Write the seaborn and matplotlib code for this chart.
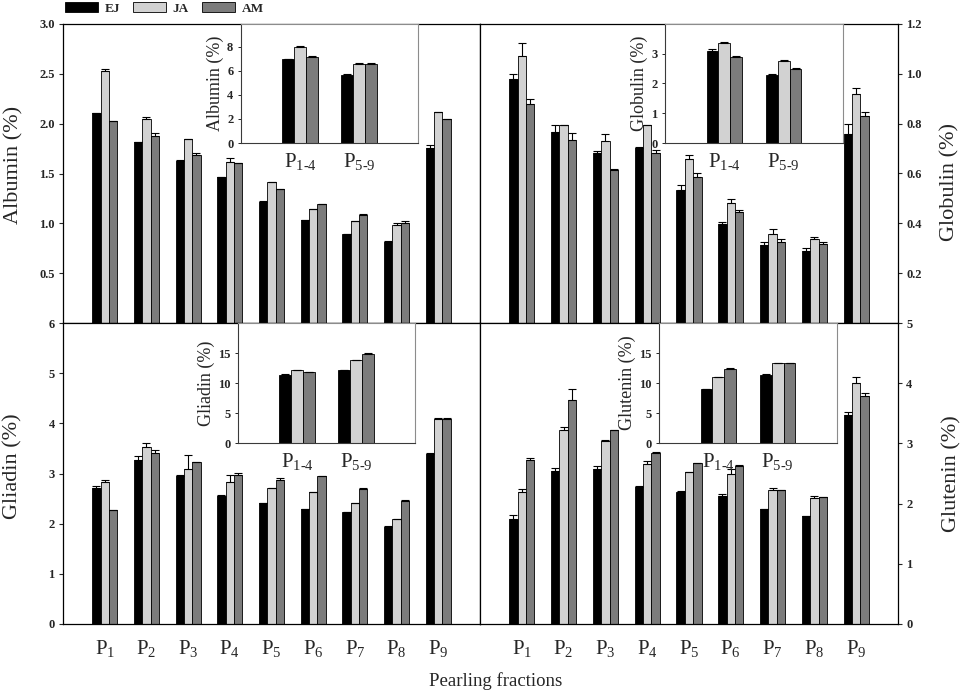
import numpy as np
import pandas as pd
import seaborn as sns
import matplotlib.pyplot as plt

# categories
fractions = ["P1", "P2", "P3", "P4", "P5", "P6", "P7", "P8", "P9"]
fraction_labels = [r"$\mathrm{P}_{%d}$" % i for i in range(1, 10)]
pools = ["P1-4", "P5-9"]
pool_labels = [r"$\mathrm{P}_{\text{1-4}}$", r"$\mathrm{P}_{\text{5-9}}$"]
cultivars = ["EJ", "JA", "AM"]
colors = ["#000000", "#d2d2d2", "#7c7c7c"]

# Albumin (%)
albumin_ej = [2.11, 1.82, 1.63, 1.46, 1.21, 1.03, 0.89, 0.81, 1.76]
albumin_ja = [2.53, 2.05, 1.85, 1.62, 1.41, 1.14, 1.02, 0.98, 2.12]
albumin_am = [2.03, 1.88, 1.69, 1.61, 1.34, 1.19, 1.08, 1.00, 2.05]
albumin_ej_err = [0.00, 0.00, 0.01, 0.00, 0.01, 0.00, 0.00, 0.01, 0.03]
albumin_ja_err = [0.02, 0.02, 0.00, 0.04, 0.00, 0.00, 0.00, 0.02, 0.00]
albumin_am_err = [0.00, 0.03, 0.02, 0.00, 0.00, 0.00, 0.01, 0.02, 0.00]
albumin_pool_ej = [6.95, 5.65]
albumin_pool_ja = [8.0, 6.6]
albumin_pool_am = [7.15, 6.6]

# Globulin (%)
globulin_ej = [0.978, 0.766, 0.683, 0.703, 0.532, 0.396, 0.312, 0.290, 0.760]
globulin_ja = [1.073, 0.793, 0.730, 0.793, 0.660, 0.482, 0.356, 0.336, 0.921]
globulin_am = [0.877, 0.736, 0.613, 0.683, 0.584, 0.445, 0.327, 0.316, 0.830]
globulin_ej_err = [0.02, 0.03, 0.007, 0.005, 0.02, 0.01, 0.013, 0.01, 0.04]
globulin_ja_err = [0.05, 0.00, 0.03, 0.00, 0.016, 0.017, 0.02, 0.01, 0.024]
globulin_am_err = [0.02, 0.027, 0.005, 0.01, 0.02, 0.01, 0.01, 0.01, 0.016]
globulin_pool_ej = [3.1, 2.27]
globulin_pool_ja = [3.35, 2.75]
globulin_pool_am = [2.88, 2.48]

# Gliadin (%)
gliadin_ej = [2.71, 3.27, 2.95, 2.55, 2.41, 2.30, 2.23, 1.93, 3.38]
gliadin_ja = [2.83, 3.53, 3.09, 2.83, 2.71, 2.63, 2.41, 2.09, 4.08]
gliadin_am = [2.28, 3.41, 3.23, 2.97, 2.87, 2.95, 2.69, 2.45, 4.08]
gliadin_ej_err = [0.04, 0.07, 0.03, 0.02, 0.00, 0.00, 0.00, 0.03, 0.03]
gliadin_ja_err = [0.05, 0.08, 0.27, 0.15, 0.00, 0.00, 0.00, 0.00, 0.02]
gliadin_am_err = [0.00, 0.06, 0.00, 0.04, 0.04, 0.00, 0.03, 0.02, 0.03]
gliadin_pool_ej = [11.4, 12.1]
gliadin_pool_ja = [12.2, 13.8]
gliadin_pool_am = [11.8, 14.9]

# Glutenin (%)
glutenin_ej = [1.75, 2.54, 2.58, 2.28, 2.19, 2.13, 1.91, 1.79, 3.48]
glutenin_ja = [2.19, 3.23, 3.04, 2.65, 2.52, 2.50, 2.23, 2.09, 4.00]
glutenin_am = [2.72, 3.72, 3.23, 2.84, 2.68, 2.62, 2.22, 2.11, 3.79]
glutenin_ej_err = [0.06, 0.05, 0.04, 0.02, 0.02, 0.03, 0.00, 0.00, 0.04]
glutenin_ja_err = [0.05, 0.04, 0.02, 0.06, 0.00, 0.07, 0.03, 0.04, 0.10]
glutenin_am_err = [0.04, 0.18, 0.00, 0.02, 0.00, 0.02, 0.00, 0.00, 0.05]
glutenin_pool_ej = [9.0, 11.4]
glutenin_pool_ja = [11.0, 13.3]
glutenin_pool_am = [12.4, 13.3]

sns.set_style("ticks")
plt.rcParams["font.family"] = ["Liberation Serif", "DejaVu Serif"]
plt.rcParams["mathtext.fontset"] = "custom"
plt.rcParams["mathtext.rm"] = "Liberation Serif"
plt.rcParams["mathtext.it"] = "Liberation Serif:italic"
plt.rcParams["axes.linewidth"] = 0.9

W, H = 964, 692
fig = plt.figure(figsize=(W / 100, H / 100), dpi=100)


def box(x0, y0, x1, y1):
    # pixel box (top-left origin) -> figure fraction rect
    return [x0 / W, 1 - y1 / H, (x1 - x0) / W, (y1 - y0) / H]


def draw_bars(ax, cats, ej, ja, am, errs=None):
    df = pd.DataFrame({
        "fraction": cats * 3,
        "cultivar": np.repeat(cultivars, len(cats)),
        "value": list(ej) + list(ja) + list(am),
    })
    sns.barplot(data=df, x="fraction", y="value", hue="cultivar",
                order=cats, hue_order=cultivars, palette=colors,
                width=0.6, edgecolor="black", linewidth=0.6,
                errorbar=None, legend=False, ax=ax, zorder=2)
    bars = [c for c in ax.containers]
    if errs is not None:
        for cont, err in zip(bars, errs):
            xs = [p.get_x() + p.get_width() / 2 for p in cont.patches]
            hs = [p.get_height() for p in cont.patches]
            ax.errorbar(xs, hs, yerr=[np.zeros(len(err)), err], fmt="none",
                        ecolor="black", elinewidth=0.8, capsize=3,
                        capthick=0.8, zorder=3)
    ax.set_xlabel("")
    ax.set_ylabel("")
    return bars


panels = [
    # rect, values, errors, ylim, ticks, fmt, right side, bottom labels
    (box(63, 24, 480, 323), (albumin_ej, albumin_ja, albumin_am),
     (albumin_ej_err, albumin_ja_err, albumin_am_err),
     (0, 3.0), np.arange(0.5, 3.01, 0.5), "{:.1f}", False, False),
    (box(480, 24, 898, 323), (globulin_ej, globulin_ja, globulin_am),
     (globulin_ej_err, globulin_ja_err, globulin_am_err),
     (0, 1.2), np.arange(0.2, 1.21, 0.2), "{:.1f}", True, False),
    (box(63, 323, 480, 624), (gliadin_ej, gliadin_ja, gliadin_am),
     (gliadin_ej_err, gliadin_ja_err, gliadin_am_err),
     (0, 6), np.arange(0, 7, 1), "{:.0f}", False, True),
    (box(480, 323, 898, 624), (glutenin_ej, glutenin_ja, glutenin_am),
     (glutenin_ej_err, glutenin_ja_err, glutenin_am_err),
     (0, 5), np.arange(0, 6, 1), "{:.0f}", True, True),
]

legend_handles = None
for rect, vals, errs, ylim, ticks, fmt, right, bottom in panels:
    ax = fig.add_axes(rect)
    bars = draw_bars(ax, fractions, *vals, errs=errs)
    if legend_handles is None:
        legend_handles = bars
    ax.set_xlim(-1, 9)
    ax.set_ylim(*ylim)
    ax.set_yticks(ticks, labels=[fmt.format(t) for t in ticks],
                  fontsize=9, fontweight="bold")
    if right:
        ax.yaxis.tick_right()
    ax.tick_params(axis="y", length=3, width=0.8, pad=3)
    if bottom:
        ax.set_xticks(range(len(fractions)), labels=fraction_labels, fontsize=15)
        ax.tick_params(axis="x", length=0, pad=10)
    else:
        ax.tick_params(axis="x", bottom=False, labelbottom=False)
    for s in ax.spines.values():
        s.set_visible(True)
        s.set_color("black")

insets = [
    (box(241, 24, 418, 143), (albumin_pool_ej, albumin_pool_ja, albumin_pool_am),
     (0, 9.9), [0, 2, 4, 6, 8], "Albumin (%)"),
    (box(665, 24, 843, 143), (globulin_pool_ej, globulin_pool_ja, globulin_pool_am),
     (0, 4), [0, 1, 2, 3], "Globulin (%)"),
    (box(238, 323, 415, 443), (gliadin_pool_ej, gliadin_pool_ja, gliadin_pool_am),
     (0, 20), [0, 5, 10, 15], "Gliadin (%)"),
    (box(659, 323, 837, 443), (glutenin_pool_ej, glutenin_pool_ja, glutenin_pool_am),
     (0, 20), [0, 5, 10, 15], "Glutenin (%)"),
]

for rect, vals, ylim, ticks, label in insets:
    ax = fig.add_axes(rect, facecolor="white")
    draw_bars(ax, pools, *vals, errs=[[0.05, 0.05]] * 3)
    ax.set_xlim(-1, 2)
    ax.set_ylim(*ylim)
    ax.set_yticks(ticks, labels=[str(t) for t in ticks],
                  fontsize=9, fontweight="bold")
    ax.tick_params(axis="y", length=2.5, width=0.7, pad=3)
    ax.set_xticks([0, 1], labels=pool_labels, fontsize=15)
    ax.tick_params(axis="x", length=0, pad=6)
    ax.set_ylabel(label, fontsize=13, labelpad=2)
    for side, s in ax.spines.items():
        s.set_visible(True)
        s.set_linewidth(0.8)
        s.set_color("#3a3a3a" if side in ("left", "bottom") else "#8c8c8c")

# outer axis titles
fig.text(14 / W, 1 - 165 / H, "Albumin (%)", rotation=90, ha="center", va="center", fontsize=16)
fig.text(13 / W, 1 - 466 / H, "Gliadin (%)", rotation=90, ha="center", va="center", fontsize=16)
fig.text(950 / W, 1 - 182 / H, "Globulin (%)", rotation=90, ha="center", va="center", fontsize=16)
fig.text(952 / W, 1 - 474 / H, "Glutenin (%)", rotation=90, ha="center", va="center", fontsize=16)
fig.text(496 / W, 1 - 681 / H, "Pearling fractions", ha="center", va="center", fontsize=13.5)

fig.legend(legend_handles, cultivars, loc="upper left",
           bbox_to_anchor=(63 / W, 1.0), ncol=3, frameon=False,
           prop={"weight": "bold", "size": 9.5}, handlelength=2.5,
           handleheight=0.8, handletextpad=0.5, columnspacing=1.0,
           borderpad=0.15, borderaxespad=0)

fig.savefig("out.png", dpi=100)
